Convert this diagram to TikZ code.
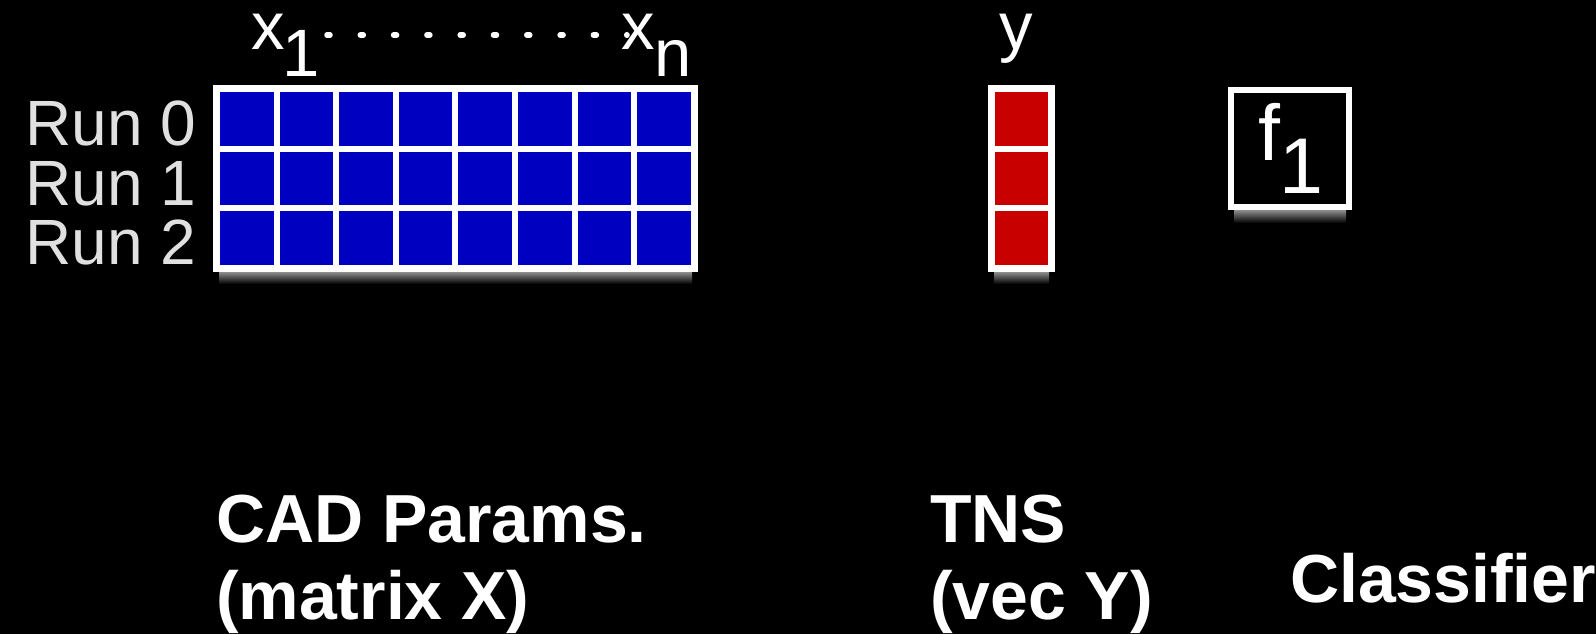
\documentclass[tikz,border=0pt]{standalone}
\usepackage{fontspec}
\setmainfont{Liberation Sans}
\begin{document}
\begin{tikzpicture}[x=1pt,y=-1pt,
  lbl/.style={text=white, inner sep=0pt, outer sep=0pt},
  runlbl/.style={text=black!12, inner sep=0pt, outer sep=0pt, anchor=base east, font=\fontsize{64}{64}\selectfont},
  boldlbl/.style={text=white, inner sep=0pt, outer sep=0pt, anchor=base west, font=\fontsize{68}{77}\selectfont\bfseries},
  whiteframe/.style={fill=white, draw=none, inner sep=0pt, outer sep=0pt, anchor=north west},
  under/.style={top color=black!40, bottom color=black},
  dots/.style={white, line width=5.5pt, line cap=round, dash pattern=on 3pt off 30.3pt}
]
\definecolor{cellblue}{RGB}{0,0,192}
\definecolor{cellred}{RGB}{200,0,0}
\fill[black] (0,0) rectangle (1596,634);
\useasboundingbox (0,0) rectangle (1596,634);

% matrix X
\shade[under] (219,271) rectangle (692,284);
\node[whiteframe, minimum width=485pt, minimum height=187pt] (X) at (213,85) {};
\foreach \i in {0,...,7}{
  \foreach \j in {0,1,2}{
    \fill[cellblue] (220+\i*59.6, 92+\j*59.6) rectangle ++(53.6,53.6);
  }
}

% run labels
\node[runlbl] (r0) at (196,145) {Run 0};
\node[runlbl] (r1) at (196,205) {Run 1};
\node[runlbl] (r2) at (196,264) {Run 2};

% column labels
\node[lbl, anchor=base west, font=\fontsize{67}{67}\selectfont] (x1) at (251,50)
  {x\kern-2pt\raisebox{-27pt}{1}};
\node[lbl, anchor=base west, font=\fontsize{67}{67}\selectfont] (xn) at (621,50)
  {x\raisebox{-27pt}{n}};
\coordinate (d1) at (327,35);
\coordinate (d2) at (627,35);
\draw[dots] (d1) -- (d2);

% vector y
\shade[under] (994,271) rectangle (1049,284);
\node[whiteframe, minimum width=67pt, minimum height=187pt] (Y) at (988,85) {};
\foreach \j in {0,1,2}{
  \fill[cellred] (995, 92+\j*59.6) rectangle ++(53,53.6);
}
\node[lbl, anchor=base west, font=\fontsize{67}{67}\selectfont] (ylbl) at (999,50) {y};

% classifier box
\shade[under] (1234,209) rectangle (1346,223);
\node[draw=white, line width=6pt, fill=black, minimum width=118pt, minimum height=117pt,
  inner sep=0pt, outer sep=0pt, anchor=north west] (F) at (1231,90) {};
\node[lbl, anchor=base west, font=\fontsize{79}{79}\selectfont] (f1) at (1258,160)
  {f\raisebox{-33pt}{1}};

% bottom labels
\node[boldlbl] (cad) at (216,542) {CAD Params.};
\node[boldlbl] (matx) at (216,619) {(matrix X)};
\node[boldlbl] (tns) at (930,542) {TNS};
\node[boldlbl] (vecy) at (930,619) {(vec Y)};
\node[boldlbl] (cls) at (1290,602) {Classifier};
\end{tikzpicture}
\end{document}
